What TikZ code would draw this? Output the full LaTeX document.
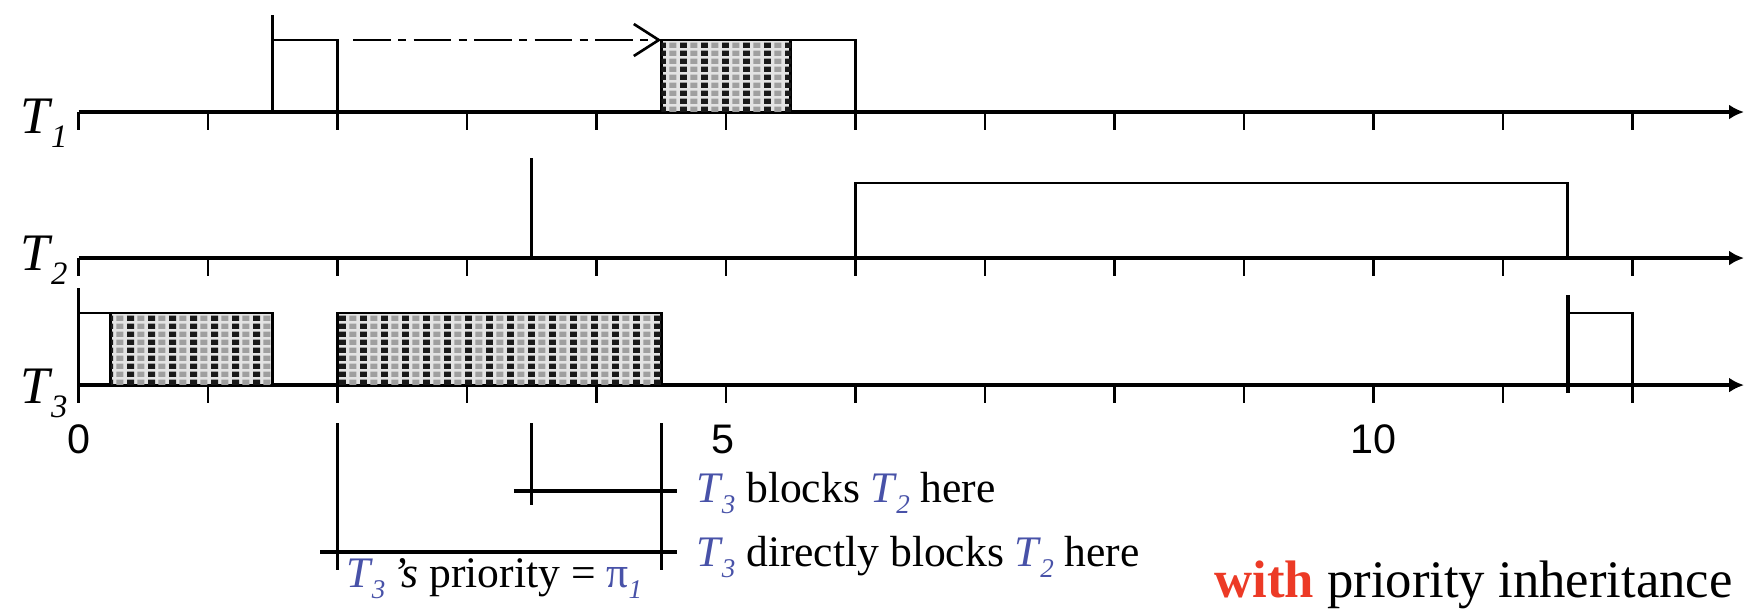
\documentclass[tikz,border=0pt]{standalone}
\usepackage{graphicx}
\usepackage{fontspec}
\setmainfont{Liberation Serif}
\newfontfamily\numfont{Liberation Sans}
\usetikzlibrary{arrows.meta,patterns}
\definecolor{tblue}{RGB}{72,82,168}
\definecolor{wred}{RGB}{236,58,38}
\pgfdeclarepatterninherentlycolored{tdots}{\pgfpointorigin}{\pgfpoint{12.1pt}{4.7pt}}{\pgfpoint{12.1pt}{4.7pt}}{%
  \pgfsetfillcolor{gray!75}\pgfpathrectangle{\pgfpoint{6.05pt}{0.7pt}}{\pgfpoint{4.1pt}{3.2pt}}\pgfusepath{fill}%
  \pgfsetfillcolor{black!90}\pgfpathrectangle{\pgfpoint{0pt}{0.7pt}}{\pgfpoint{4.1pt}{3.2pt}}\pgfusepath{fill}}
\newcommand\TT[1]{\textit{T}\kern-0.03em\raisebox{-0.27em}{\scalebox{0.62}{\textit{#1}}}}
\newcommand\Tb[1]{\textcolor{tblue}{\TT{#1}}}
\begin{document}
\begin{tikzpicture}[x=2.59cm,y=-0.02cm,
  axis/.style={line width=2pt,-{Latex[length=0.3cm,width=0.3cm]}},
  tickmark/.style={line width=1.4pt},
  boxline/.style={line width=1.6pt},
  hatch/.style={line width=1.6pt,fill=gray!22,postaction={pattern=tdots}},
  annot/.style={line width=1.6pt},
  annoth/.style={line width=1.9pt},
  axlab/.style={anchor=base west,inner sep=0pt,font=\fontsize{30}{34}\selectfont},
  lab/.style={anchor=base west,inner sep=0pt,font=\fontsize{24.8}{29}\selectfont},
  num/.style={anchor=base,inner sep=0pt,font=\numfont\fontsize{23.5}{28}\selectfont},
  dashdot/.style={line width=1.5pt,dash pattern=on 0.75cm off 0.15cm on 0.16cm off 0.15cm}]
\useasboundingbox (-0.6062,0) rectangle (12.9691,608);

% axes
\foreach \y in {112,258,385} {
  \draw[axis] (0,\y) -- (12.861,\y);
  \foreach \t in {0,...,12} \draw[tickmark] (\t,\y) -- (\t,\y+18);
}
\node[axlab] (l1) at (-0.452,133) {\TT{1}};
\node[axlab] (l2) at (-0.452,270) {\TT{2}};
\node[axlab] (l3) at (-0.452,403) {\TT{3}};

% T1
\draw[boxline] (1.5,15) -- (1.5,112);
\draw[boxline] (1.5,40) -- (2,40) -- (2,112);
\draw[hatch] (4.5,112) rectangle (5.5,40);
\draw[boxline] (5.5,40) -- (6,40) -- (6,112);
\coordinate (d1) at (2.12,40);
\coordinate (d2) at (4.5,40);
\draw[dashdot,-{Straight Barb[length=0.5cm,width=0.64cm,line width=1.5pt]}] (d1) -- (d2);

% T2
\draw[boxline] (3.5,158) -- (3.5,258);
\draw[boxline] (6,258) -- (6,183) -- (11.5,183) -- (11.5,258);

% T3
\draw[boxline] (0,288) -- (0,385);
\draw[boxline] (0,313) -- (0.25,313);
\draw[hatch] (0.25,385) rectangle (1.5,313);
\draw[hatch] (2,385) rectangle (4.5,313);
\draw[line width=2.4pt] (11.5,295) -- (11.5,393);
\draw[boxline] (11.5,313) -- (12,313) -- (12,385);

% numbers
\node[num] (n0) at (0,453) {0};
\node[num] (n5) at (4.98,453) {5};
\node[num] (n10) at (10,453) {10};

% annotations
\draw[annot] (2,423) -- (2,570);
\draw[annot] (3.5,423) -- (3.5,505);
\draw[annot] (4.5,423) -- (4.5,570);
\draw[annoth] (3.362,491) -- (4.622,491);
\draw[annoth] (1.865,552) -- (4.622,552);

\node[lab] (t1) at (4.768,502) {\Tb{3} blocks \Tb{2} here};
\node[lab] (t2) at (4.768,566) {\Tb{3} directly blocks \Tb{2} here};
\node[lab] (t3) at (2.066,587) {\Tb{3}\,\textit{’s} priority = \textcolor{tblue}{π\raisebox{-0.27em}{\scalebox{0.62}{\textit{1}}}}};
\node[anchor=base west,inner sep=0pt,font=\fontsize{30}{34}\selectfont] (wp) at (8.768,597) {\textcolor{wred}{\textbf{with}} priority inheritance};
\end{tikzpicture}
\end{document}
